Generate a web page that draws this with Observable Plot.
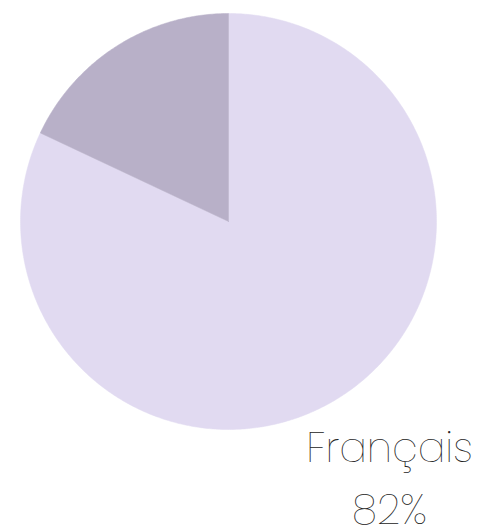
<!DOCTYPE html>
<html>
<head>
<meta charset="utf-8">
<script src="https://cdn.jsdelivr.net/npm/d3@7"></script>
<script src="https://cdn.jsdelivr.net/npm/@observablehq/plot@0.6"></script>
<style>
  html, body { margin: 0; padding: 0; background: #fff; }
  #chart { width: 478px; height: 526px; }
</style>
</head>
<body>
<div id="chart"></div>
<script>
const categories = ["Français", "Autre"];
const values = [82, 18];
const colors = ["#E1DAF1", "#B8B0C8"];
const shownLabel = "Français";
const shownPercent = "82%";

const arcs = d3.pie().sort(null).value(d => d.value)(
  categories.map((c, i) => ({ category: c, value: values[i] }))
);

// polygon vertices for each slice, derived from the pie angles
const poly = [];
for (const a of arcs) {
  const n = Math.max(2, Math.ceil((a.endAngle - a.startAngle) / 0.01));
  poly.push({ category: a.data.category, x: 0, y: 0 });
  for (let k = 0; k <= n; k++) {
    const t = a.startAngle + (a.endAngle - a.startAngle) * k / n;
    poly.push({ category: a.data.category, x: Math.sin(t), y: Math.cos(t) });
  }
  poly.push({ category: a.data.category, x: 0, y: 0 });
}

const fontFamily = "Poppins, Inter, Lato, 'Open Sans', sans-serif";

const chart = Plot.plot({
  width: 478,
  height: 526,
  margin: 0,
  x: { domain: [-1, 1], range: [20, 436], axis: null },
  y: { domain: [-1, 1], range: [429, 13], axis: null },
  color: { domain: categories, range: colors },
  marks: [
    Plot.line(poly, { x: "x", y: "y", z: "category", fill: "category", stroke: "category", strokeWidth: 0.5, curve: "linear" }),
    Plot.text([shownLabel], { text: d => d, frameAnchor: "bottom-right", dx: -89, dy: -65, textAnchor: "middle", lineAnchor: "bottom", fontSize: 41, fontWeight: 200, fill: "#222", fontFamily }),
    Plot.text([shownPercent], { text: d => d, frameAnchor: "bottom-right", dx: -89, dy: -3, textAnchor: "middle", lineAnchor: "bottom", fontSize: 41, fontWeight: 200, fill: "#222", fontFamily })
  ]
});
document.getElementById("chart").appendChild(chart);
</script>
</body>
</html>
